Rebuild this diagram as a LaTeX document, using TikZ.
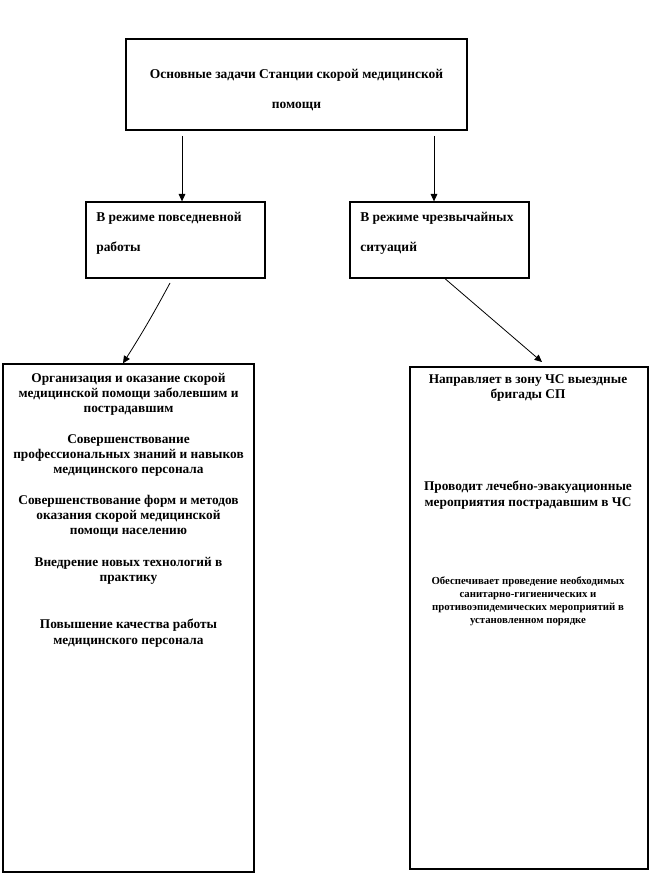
\documentclass[tikz,border=0pt]{standalone}
\usepackage{fontspec}
\setmainfont{Liberation Serif}
\usetikzlibrary{arrows.meta,positioning}

\tikzset{
  box/.style={draw, line width=1pt, inner sep=0pt},
  headtxt/.style={font=\fontsize{10.1}{22.5}\selectfont\bfseries, inner sep=0pt},
  txt/.style={font=\fontsize{10}{11.4}\selectfont\bfseries, align=center, inner sep=0pt, anchor=north},
  smalltxt/.style={font=\fontsize{8.1}{9.75}\selectfont\bfseries, align=center, inner sep=0pt, anchor=north},
  arr/.style={-{Triangle[length=5.5pt,width=5pt]}, line width=0.6pt},
}

\begin{document}
\begin{tikzpicture}[x=0.75pt,y=-0.75pt]
  \useasboundingbox (0,0) rectangle (650,891);

  % Draw top box
  \node[box, minimum width=255.75pt, minimum height=68.25pt] (top) at (296.5,84.5) {};
  \node[headtxt, align=center] (toptxt) at (296.5,90) {Основные задачи Станции скорой медицинской\\помощи};

  % Draw the two mode boxes
  \node[box, minimum width=134.25pt, minimum height=57pt] (mode1) at (175.5,240) {};
  \node[headtxt, align=left, anchor=north west] (mode1txt) at (96,211.5) {В режиме повседневной\\работы};
  \node[box, minimum width=134.25pt, minimum height=57pt] (mode2) at (439.5,240) {};
  \node[headtxt, align=left, anchor=north west] (mode2txt) at (360,211.5) {В режиме чрезвычайных\\ситуаций};

  % Draw the big task boxes
  \node[box, minimum width=188.25pt, minimum height=381pt] (tasks1) at (128.5,618) {};
  \node[box, minimum width=178.5pt, minimum height=376.5pt] (tasks2) at (529,618) {};

  % Tasks in everyday mode
  \node[txt] (p1) at (128.5,373) {Организация и оказание скорой\\медицинской помощи заболевшим и\\пострадавшим};
  \node[txt] (p2) at (128.5,434) {Совершенствование\\профессиональных знаний и навыков\\медицинского персонала};
  \node[txt] (p3) at (128.5,495) {Совершенствование форм и методов\\оказания скорой медицинской\\помощи населению};
  \node[txt] (p4) at (128.5,557) {Внедрение новых технологий в\\практику};
  \node[txt] (p5) at (128.5,619) {Повышение качества работы\\медицинского персонала};

  % Tasks in emergency mode
  \node[txt] (q1) at (528,374) {Направляет в зону ЧС выездные\\бригады СП};
  \node[txt] (q2) at (528,481) {Проводит лечебно-эвакуационные\\мероприятия пострадавшим в ЧС};
  \node[smalltxt] (q3) at (528,576) {Обеспечивает проведение необходимых\\санитарно-гигиенических и\\противоэпидемических мероприятий в\\установленном порядке};

  % Draw arrows from top box
  \coordinate (s1) at (182,136);
  \coordinate (s2) at (434,136);
  \draw[arr] (s1) -- (s1 |- mode1.north);
  \draw[arr] (s2) -- (s2 |- mode2.north);

  % Draw arrows to the task boxes
  \coordinate (s3) at (170,283);
  \coordinate (e3) at (123,0);
  \draw[arr] (s3) to[bend left=2] (e3 |- tasks1.north);
  \coordinate (s4) at (445,0);
  \coordinate (e4) at (542,362);
  \draw[arr] (s4 |- mode2.south) -- (e4);
\end{tikzpicture}
\end{document}
